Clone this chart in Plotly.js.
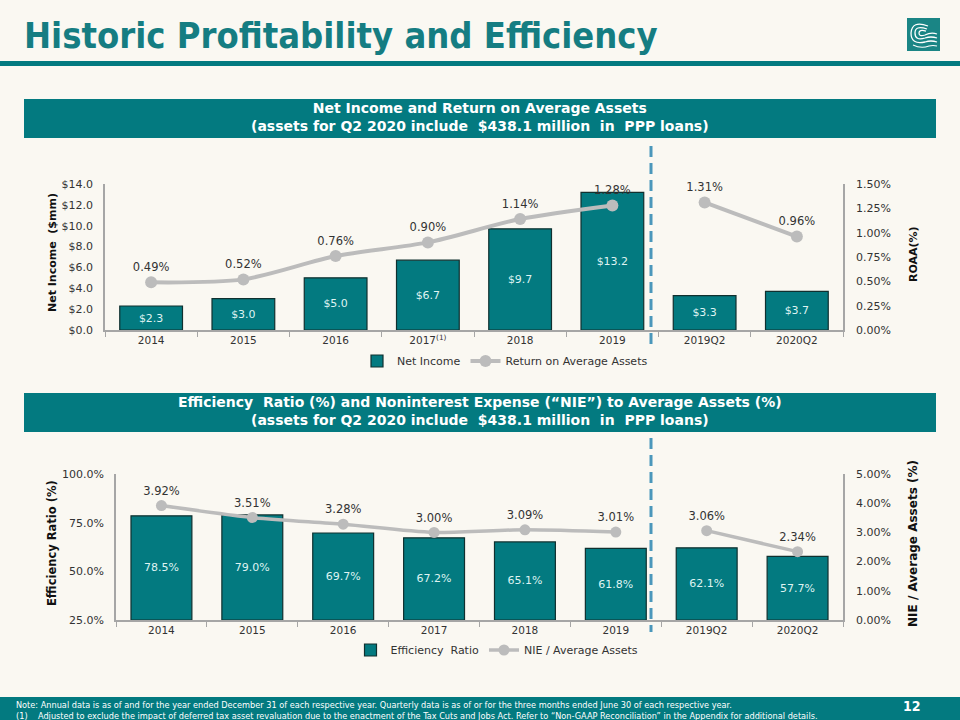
<!DOCTYPE html>
<html>
<head>
<meta charset="utf-8">
<script src="https://cdn.plot.ly/plotly-3.0.1.min.js"></script>
<style>
  html, body { margin: 0; padding: 0; background: #faf8f2; }
  #chart { width: 960px; height: 720px; }
</style>
</head>
<body>
<div id="chart"></div>
<script>
// ---------- data ----------
const categories = ['2014', '2015', '2016', '2017', '2018', '2019', '2019Q2', '2020Q2'];
const tickLabels = ['2014', '2015', '2016', '2017<sup>(1)</sup>', '2018', '2019', '2019Q2', '2020Q2'];
const annualCats = ['2014', '2015', '2016', '2017', '2018', '2019'];
const quarterCats = ['2019Q2', '2020Q2'];

const netIncome = [2.3, 3.0, 5.0, 6.7, 9.7, 13.2, 3.3, 3.7];           // $mm
const roaaAnnual = [0.49, 0.52, 0.76, 0.90, 1.14, 1.28];              // %
const roaaQuarter = [1.31, 0.96];                                     // %

const efficiencyRatio = [78.5, 79.0, 69.7, 67.2, 65.1, 61.8, 62.1, 57.7]; // %
const nieAnnual = [3.92, 3.51, 3.28, 3.00, 3.09, 3.01];                // %
const nieQuarter = [3.06, 2.34];                                       // %

// ---------- style ----------
const W = 960, H = 720;
const BG = '#faf8f2';
const TEAL = '#037a80';
const TITLE_TEAL = '#157d82';
const GRAY_LINE = '#bcbcbc';
const AXIS_GRAY = '#a6a6a6';
const TXT = '#333333';
const FONT = 'DejaVu Sans, Verdana, sans-serif';
const NARROW = 'DejaVu Sans Condensed, Liberation Sans Narrow, Arial Narrow, sans-serif';

const px = x => x / W;
const py = y => 1 - y / H;
function pathPx(str) {
  const toks = str.trim().split(/\s+/);
  const out = [];
  let i = 0;
  while (i < toks.length) {
    const t = toks[i];
    if (/^[A-Za-z]$/.test(t)) { out.push(t); i++; continue; }
    const x = parseFloat(toks[i]), y = parseFloat(toks[i + 1]);
    out.push(px(x).toFixed(5) + ',' + py(y).toFixed(5));
    i += 2;
  }
  return out.join(' ');
}

const axisBase = {
  showgrid: false, zeroline: false, showline: true,
  linecolor: AXIS_GRAY, linewidth: 1.5,
  tickfont: { family: FONT, size: 11, color: TXT },
  fixedrange: true
};

// ---------- traces ----------
const traces = [
  {
    type: 'bar', x: categories, y: netIncome, xaxis: 'x', yaxis: 'y',
    name: 'Net Income', legend: 'legend',
    marker: { color: TEAL, line: { color: '#10302f', width: 1.2 } },
    width: 0.68,
    texttemplate: '$%{y:.1f}', textposition: 'inside', insidetextanchor: 'middle',
    textangle: 0, constraintext: 'none',
    textfont: { family: FONT, size: 11, color: '#dff3f2' },
    hovertemplate: '%{x}: $%{y:.1f}mm<extra></extra>'
  },
  {
    type: 'scatter', mode: 'lines+markers+text', x: annualCats, y: roaaAnnual,
    xaxis: 'x', yaxis: 'y2', name: 'Return on Average Assets', legend: 'legend',
    line: { color: GRAY_LINE, width: 4, shape: 'spline', smoothing: 0.8 },
    marker: { color: GRAY_LINE, size: 12 },
    texttemplate: '%{y:.2f}%', textposition: 'top center',
    textfont: { family: FONT, size: 11.5, color: TXT }, cliponaxis: false
  },
  {
    type: 'scatter', mode: 'lines+markers+text', x: quarterCats, y: roaaQuarter,
    xaxis: 'x', yaxis: 'y2', name: 'Return on Average Assets', showlegend: false,
    line: { color: GRAY_LINE, width: 4, shape: 'spline', smoothing: 0.8 },
    marker: { color: GRAY_LINE, size: 12 },
    texttemplate: '%{y:.2f}%', textposition: 'top center',
    textfont: { family: FONT, size: 11.5, color: TXT }, cliponaxis: false
  },
  {
    type: 'bar', x: categories, y: efficiencyRatio.map(v => v - 25), base: 25,
    customdata: efficiencyRatio, xaxis: 'x2', yaxis: 'y3',
    name: 'Efficiency  Ratio', legend: 'legend2',
    marker: { color: TEAL, line: { color: '#10302f', width: 1.2 } },
    width: 0.67,
    texttemplate: '%{customdata:.1f}%', textposition: 'inside', insidetextanchor: 'middle',
    textangle: 0, constraintext: 'none',
    textfont: { family: FONT, size: 11, color: '#dff3f2' },
    hovertemplate: '%{x}: %{customdata:.1f}%<extra></extra>'
  },
  {
    type: 'scatter', mode: 'lines+markers+text', x: annualCats, y: nieAnnual,
    xaxis: 'x2', yaxis: 'y4', name: 'NIE / Average Assets', legend: 'legend2',
    line: { color: GRAY_LINE, width: 3.5, shape: 'spline', smoothing: 0.8 },
    marker: { color: GRAY_LINE, size: 11 },
    texttemplate: '%{y:.2f}%', textposition: 'top center',
    textfont: { family: FONT, size: 11.5, color: TXT }, cliponaxis: false
  },
  {
    type: 'scatter', mode: 'lines+markers+text', x: quarterCats, y: nieQuarter,
    xaxis: 'x2', yaxis: 'y4', name: 'NIE / Average Assets', showlegend: false,
    line: { color: GRAY_LINE, width: 3.5, shape: 'spline', smoothing: 0.8 },
    marker: { color: GRAY_LINE, size: 11 },
    texttemplate: '%{y:.2f}%', textposition: 'top center',
    textfont: { family: FONT, size: 11.5, color: TXT }, cliponaxis: false
  }
];

// ---------- layout ----------
const xCommon = Object.assign({}, axisBase, {
  type: 'category', categoryorder: 'array', categoryarray: categories,
  tickvals: categories, ticktext: tickLabels,
  range: [-0.5, 7.5], tickson: 'boundaries', ticks: 'outside', ticklen: 5,
  tickcolor: AXIS_GRAY, tickwidth: 1.2,
  tickfont: { family: FONT, size: 10.5, color: TXT }
});

const shapes = [
  // title underline
  { type: 'rect', xref: 'paper', yref: 'paper', x0: 0, x1: 1, y0: py(66), y1: py(61), fillcolor: TEAL, line: { width: 0 }, layer: 'below' },
  // header bands
  { type: 'rect', xref: 'paper', yref: 'paper', x0: px(24), x1: px(936), y0: py(138), y1: py(99), fillcolor: TEAL, line: { width: 0 }, layer: 'below' },
  { type: 'rect', xref: 'paper', yref: 'paper', x0: px(24), x1: px(936), y0: py(432), y1: py(393), fillcolor: TEAL, line: { width: 0 }, layer: 'below' },
  // footer band
  { type: 'rect', xref: 'paper', yref: 'paper', x0: 0, x1: 1, y0: 0, y1: py(697), fillcolor: TEAL, line: { width: 0 }, layer: 'below' },
  // dashed separators
  { type: 'line', xref: 'paper', yref: 'paper', x0: px(651), x1: px(651), y0: py(146), y1: py(348), line: { color: '#4b97bb', width: 3, dash: '11px,6px' } },
  { type: 'line', xref: 'paper', yref: 'paper', x0: px(651), x1: px(651), y0: py(438), y1: py(632), line: { color: '#4b97bb', width: 3, dash: '11px,6px' } },
  // logo
  { type: 'rect', xref: 'paper', yref: 'paper', x0: px(907), x1: px(940), y0: py(51), y1: py(18), fillcolor: '#1a8585', line: { width: 0 } },
  { type: 'path', xref: 'paper', yref: 'paper', path: pathPx('M 928 26 Q 912 20 911 33 Q 911 45 925 42 Q 931 40 937 42'), line: { color: 'white', width: 1.3 } },
  { type: 'path', xref: 'paper', yref: 'paper', path: pathPx('M 927 29 Q 915 25 915 33 Q 915 41 925 38 Q 931 36 937 38'), line: { color: 'white', width: 1.3 } },
  { type: 'path', xref: 'paper', yref: 'paper', path: pathPx('M 926 31 Q 919 29 919 33 Q 919 37 925 35 Q 931 32 937 34'), line: { color: 'white', width: 1.3 } },
  { type: 'path', xref: 'paper', yref: 'paper', path: pathPx('M 913 45 Q 921 49 929 46 Q 933 45 937 46'), line: { color: 'white', width: 1.1 } }
];

const annotations = [
  { text: '<b>Historic Profitability and Efficiency</b>', xref: 'paper', yref: 'paper', x: px(22), y: py(35), xanchor: 'left', yanchor: 'middle', showarrow: false,
    font: { family: NARROW, size: 36, color: TITLE_TEAL } },
  { text: '<b>Net Income and Return on Average Assets<br>(assets for Q2 2020 include  $438.1 million  in  PPP loans)</b>', xref: 'paper', yref: 'paper', x: 0.5, y: py(117), xanchor: 'center', yanchor: 'middle', showarrow: false,
    font: { family: FONT, size: 14, color: '#ffffff' } },
  { text: '<b>Efficiency  Ratio (%) and Noninterest Expense (“NIE”) to Average Assets (%)<br>(assets for Q2 2020 include  $438.1 million  in  PPP loans)</b>', xref: 'paper', yref: 'paper', x: 0.5, y: py(411), xanchor: 'center', yanchor: 'middle', showarrow: false,
    font: { family: FONT, size: 14, color: '#ffffff' } },
  // axis titles
  { text: '<b>Net Income  ($mm)</b>', xref: 'paper', yref: 'paper', x: px(53), y: py(253), textangle: -90, xanchor: 'center', yanchor: 'middle', showarrow: false,
    font: { family: FONT, size: 11, color: '#111111' } },
  { text: '<b>ROAA(%)</b>', xref: 'paper', yref: 'paper', x: px(913), y: py(254), textangle: -90, xanchor: 'center', yanchor: 'middle', showarrow: false,
    font: { family: FONT, size: 11, color: '#111111' } },
  { text: '<b>Efficiency Ratio (%)</b>', xref: 'paper', yref: 'paper', x: px(52), y: py(543), textangle: -90, xanchor: 'center', yanchor: 'middle', showarrow: false,
    font: { family: FONT, size: 11.5, color: '#111111' } },
  { text: '<b>NIE / Average Assets (%)</b>', xref: 'paper', yref: 'paper', x: px(913), y: py(544), textangle: -90, xanchor: 'center', yanchor: 'middle', showarrow: false,
    font: { family: FONT, size: 12, color: '#111111' } },
  // footer
  { text: 'Note: Annual data is as of and for the year ended December 31 of each respective year. Quarterly data is as of or for the three months ended June 30 of each respective year.', xref: 'paper', yref: 'paper', x: px(14), y: py(705), xanchor: 'left', yanchor: 'middle', showarrow: false,
    font: { family: NARROW, size: 9.1, color: '#ffffff' } },
  { text: '(1)    Adjusted to exclude the impact of deferred tax asset revaluation due to the enactment of the Tax Cuts and Jobs Act. Refer to “Non-GAAP Reconciliation” in the Appendix for additional details.', xref: 'paper', yref: 'paper', x: px(14), y: py(715.5), xanchor: 'left', yanchor: 'middle', showarrow: false,
    font: { family: NARROW, size: 9.1, color: '#ffffff' } },
  { text: '<b>12</b>', xref: 'paper', yref: 'paper', x: px(912), y: py(706), xanchor: 'center', yanchor: 'middle', showarrow: false,
    font: { family: NARROW, size: 14, color: '#ffffff' } }
];

const layout = {
  width: W, height: H,
  margin: { l: 0, r: 0, t: 0, b: 0, pad: 0 },
  paper_bgcolor: BG, plot_bgcolor: 'rgba(0,0,0,0)',
  font: { family: FONT, color: TXT },
  bargap: 0.3,
  xaxis: Object.assign({}, xCommon, { domain: [px(105), px(843)], anchor: 'y' }),
  yaxis: Object.assign({}, axisBase, {
    domain: [py(330), py(184)], range: [0, 14], dtick: 2, tick0: 0,
    tickprefix: '$', tickformat: '.1f', ticks: '', ticklabelstandoff: 8, anchor: 'x'
  }),
  yaxis2: Object.assign({}, axisBase, {
    overlaying: 'y', side: 'right', anchor: 'x', range: [0, 1.5], dtick: 0.25, tick0: 0,
    ticksuffix: '%', tickformat: '.2f', ticks: '', ticklabelstandoff: 9
  }),
  xaxis2: Object.assign({}, xCommon, { domain: [px(116), px(843)], anchor: 'y3',
    ticktext: categories }),
  yaxis3: Object.assign({}, axisBase, {
    domain: [py(620), py(474)], range: [25, 100], dtick: 25, tick0: 0,
    ticksuffix: '%', tickformat: '.1f', ticks: '', ticklabelstandoff: 8, anchor: 'x2'
  }),
  yaxis4: Object.assign({}, axisBase, {
    overlaying: 'y3', side: 'right', anchor: 'x2', range: [0, 5], dtick: 1, tick0: 0,
    ticksuffix: '%', tickformat: '.2f', ticks: '', ticklabelstandoff: 9
  }),
  legend: {
    orientation: 'h', x: px(505), y: py(361), xanchor: 'center', yanchor: 'middle',
    bgcolor: 'rgba(0,0,0,0)', font: { family: FONT, size: 11, color: TXT },
    itemwidth: 30, traceorder: 'normal'
  },
  legend2: {
    orientation: 'h', x: px(497), y: py(650), xanchor: 'center', yanchor: 'middle',
    bgcolor: 'rgba(0,0,0,0)', font: { family: FONT, size: 11, color: TXT },
    itemwidth: 30, traceorder: 'normal'
  },
  shapes: shapes,
  annotations: annotations,
  showlegend: true
};

Plotly.newPlot('chart', traces, layout, { displayModeBar: false, staticPlot: false, responsive: false });
</script>
</body>
</html>
